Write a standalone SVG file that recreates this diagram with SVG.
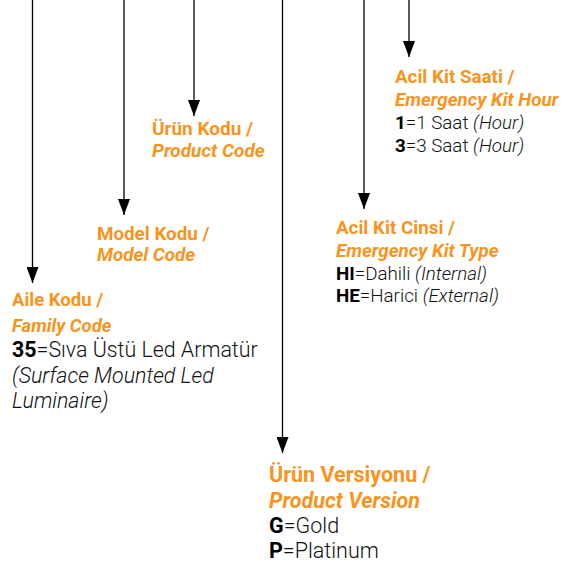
<svg xmlns="http://www.w3.org/2000/svg" width="563" height="571" viewBox="0 0 563 571">
<defs>
<marker id="ah" markerUnits="userSpaceOnUse" markerWidth="16" markerHeight="12" refX="16" refY="6" orient="auto" viewBox="0 0 16 12">
<path d="M0,0 L16,6 L0,12 Z" fill="#000"/>
</marker>
<style>
.c{stroke:#000;stroke-width:1.3;fill:none;marker-end:url(#ah)}
.h{font-family:Roboto,"Liberation Sans",sans-serif;font-weight:700;fill:#F7941D}
.hi{font-style:italic}
.b{font-family:Roboto,"Liberation Sans",sans-serif;font-weight:300;fill:#111}
.bb{font-weight:700;fill:#000}
.it{font-style:italic}
</style>
</defs>
<rect width="563" height="571" fill="#fff"/>
<g id="connectors">
<path class="c" d="M32.5,0 V283"/>
<path class="c" d="M124,0 V215"/>
<path class="c" d="M194,0 V116"/>
<path class="c" d="M282.5,0 V453"/>
<path class="c" d="M364,0 V209"/>
<path class="c" d="M409,0 V57"/>
</g>
<g id="urun-kodu">
<text class="h" x="152" y="135" font-size="19">Ürün Kodu /</text>
<text class="h hi" x="152" y="157" font-size="19">Product Code</text>
</g>
<g id="acil-kit-saati">
<text class="h" x="395" y="83" font-size="18.8">Acil Kit Saati /</text>
<text class="h hi" x="395" y="106" font-size="18.8">Emergency Kit Hour</text>
<text class="b" x="395" y="129" font-size="18.8"><tspan class="bb">1</tspan>=1 Saat <tspan class="it">(Hour)</tspan></text>
<text class="b" x="395" y="152" font-size="18.8"><tspan class="bb">3</tspan>=3 Saat <tspan class="it">(Hour)</tspan></text>
</g>
<g id="model-kodu">
<text class="h" x="97" y="240" font-size="18.8">Model Kodu /</text>
<text class="h hi" x="97" y="261" font-size="18.8">Model Code</text>
</g>
<g id="acil-kit-cinsi">
<text class="h" x="336" y="234" font-size="18.8">Acil Kit Cinsi /</text>
<text class="h hi" x="336" y="257" font-size="18.8">Emergency Kit Type</text>
<text class="b" x="336" y="280" font-size="18.8"><tspan class="bb">HI</tspan>=Dahili <tspan class="it">(Internal)</tspan></text>
<text class="b" x="336" y="302" font-size="18.8"><tspan class="bb">HE</tspan>=Harici <tspan class="it">(External)</tspan></text>
</g>
<g id="aile-kodu">
<text class="h" x="12" y="306" font-size="18.5">Aile Kodu /</text>
<text class="h hi" x="12" y="332" font-size="18.5">Family Code</text>
<text class="b" x="12" y="357" font-size="21.4"><tspan class="bb">35</tspan>=Sıva Üstü Led Armatür</text>
<text class="b it" x="12" y="383" font-size="21.4">(Surface Mounted Led</text>
<text class="b it" x="12" y="408" font-size="21.4">Luminaire)</text>
</g>
<g id="urun-versiyonu">
<text class="h" x="269" y="482" font-size="21.5">Ürün Versiyonu /</text>
<text class="h hi" x="269" y="508" font-size="21.5">Product Version</text>
<text class="b" x="269" y="533" font-size="21.5"><tspan class="bb">G</tspan>=Gold</text>
<text class="b" x="269" y="558" font-size="21.5"><tspan class="bb">P</tspan>=Platinum</text>
</g>
</svg>
